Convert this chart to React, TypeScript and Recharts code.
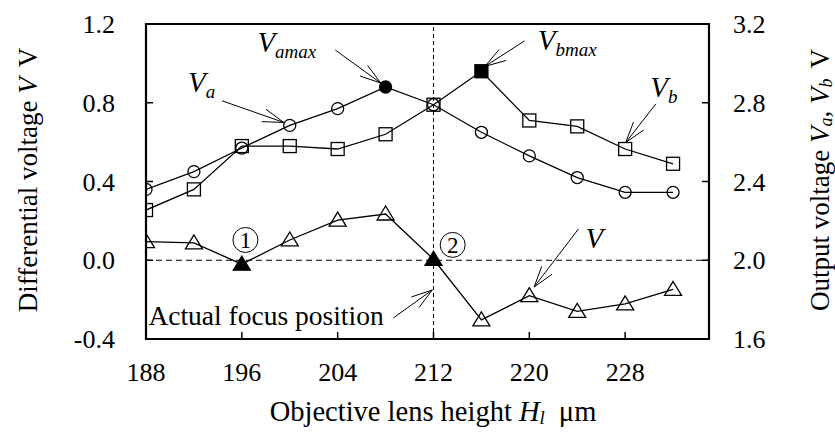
import { ComposedChart, Line, XAxis, YAxis, ReferenceLine, ReferenceDot, ReferenceArea, Customized } from 'recharts'

const heights = [188, 192, 196, 200, 204, 208, 212, 216, 220, 224, 228, 232]
const va = [2.36, 2.45, 2.57, 2.685, 2.77, 2.88, 2.79, 2.65, 2.53, 2.42, 2.345, 2.345]
const vb = [2.255, 2.36, 2.58, 2.58, 2.565, 2.64, 2.79, 2.96, 2.71, 2.68, 2.565, 2.49]
const dv = [0.095, 0.088, -0.02, 0.103, 0.204, 0.235, 0.005, -0.303, -0.18, -0.26, -0.222, -0.148]
const vaFilled = [208]
const vbFilled = [216]
const dvFilled = [196, 212]
const xTicks = [188, 196, 204, 212, 220, 228]
const leftTicks = [-0.4, 0, 0.4, 0.8, 1.2]
const rightTicks = [1.6, 2.0, 2.4, 2.8, 3.2]
const focusHeight = 212

const data = heights.map((h, i) => ({ h, va: va[i], vb: vb[i], v: dv[i] }))

const FONT = '"Liberation Serif"'
const css = 'body{margin:0} svg text, svg tspan{font-family:"Liberation Serif"}'
const tickStyle = { fill: '#000', fontSize: 26, style: { fontFamily: FONT } }

// arrows: [from, to] in data units (left axis)
const arrows = [
  [{ x: 194.35, y: 0.81 }, { x: 199.5, y: 0.7 }],
  [{ x: 203.8, y: 1.068 }, { x: 207.6, y: 0.9 }],
  [{ x: 219.6, y: 1.114 }, { x: 216.3, y: 0.985 }],
  [{ x: 230.56, y: 0.794 }, { x: 228.05, y: 0.598 }],
  [{ x: 224.1, y: 0.159 }, { x: 220.4, y: -0.136 }],
  [{ x: 208.65, y: -0.293 }, { x: 211.9, y: -0.151 }],
]

const circleDot = (filled: number[]) => (p: any) => (
  <circle key={`c${p.index}`} cx={p.cx} cy={p.cy} r={6} fill={filled.includes(p.payload.h) ? '#000' : 'none'} stroke="#000" strokeWidth={1.3} />
)
const squareDot = (filled: number[]) => (p: any) => (
  <rect key={`s${p.index}`} x={p.cx - 6.5} y={p.cy - 6.5} width={13} height={13} fill={filled.includes(p.payload.h) ? '#000' : 'none'} stroke="#000" strokeWidth={1.3} />
)
const triDot = (filled: number[]) => (p: any) => (
  <polygon key={`t${p.index}`} points={`${p.cx},${p.cy - 8} ${p.cx - 8.5},${p.cy + 6} ${p.cx + 8.5},${p.cy + 6}`} fill={filled.includes(p.payload.h) ? '#000' : 'none'} stroke="#000" strokeWidth={1.3} />
)

const Arrow = (p: any) => {
  const { x1, y1, x2, y2 } = p
  const a = Math.atan2(y2 - y1, x2 - x1)
  const L = 22
  const head = [-0.3, 0.3].map((s) => [x2 - L * Math.cos(a + s), y2 - L * Math.sin(a + s)])
  return (
    <g stroke="#000" strokeWidth={1}>
      <line x1={x1} y1={y1} x2={x2} y2={y2} />
      {head.map(([hx, hy], i) => <line key={i} x1={hx} y1={hy} x2={x2} y2={y2} />)}
    </g>
  )
}

const VLabel = (sub: string) => (p: any) => (
  <text x={p.cx} y={p.cy} style={{ fontFamily: FONT }} fontSize={29} fontStyle="italic" fill="#000">
    V{sub && <tspan fontSize={19} dy={6}>{sub}</tspan>}
  </text>
)
const Circled = (n: string) => (p: any) => (
  <g>
    <circle cx={p.cx} cy={p.cy} r={12.5} fill="none" stroke="#000" strokeWidth={1} />
    <text x={p.cx} y={p.cy + 8} textAnchor="middle" style={{ fontFamily: FONT }} fontSize={23} fill="#000">{n}</text>
  </g>
)
const FocusText = (p: any) => (
  <text x={p.cx} y={p.cy} style={{ fontFamily: FONT }} fontSize={27.5} fill="#000">Actual focus position</text>
)

const Titles = () => (
  <g style={{ fontFamily: FONT }} fontSize={27} fill="#000">
    <text x={28} y={180} transform="rotate(-90 28 180)" textAnchor="middle" dominantBaseline="central">
      Differential voltage <tspan fontStyle="italic">V</tspan><tspan dx={10}>V</tspan>
    </text>
    <text x={820} y={180} transform="rotate(-90 820 180)" textAnchor="middle" dominantBaseline="central">
      Output voltage <tspan fontStyle="italic">V</tspan><tspan fontStyle="italic" fontSize={18} dy={6}>a</tspan><tspan dy={-6}>, </tspan><tspan fontStyle="italic">V</tspan><tspan fontStyle="italic" fontSize={18} dy={6}>b</tspan><tspan dy={-6} dx={10}>V</tspan>
    </text>
    <text x={433} y={411} textAnchor="middle" dominantBaseline="central" fontSize={28.5}>
      Objective lens height <tspan fontStyle="italic">H</tspan><tspan fontStyle="italic" fontSize={19} dy={6}>l</tspan><tspan dy={-6} dx={14}>μm</tspan>
    </text>
  </g>
)

export default function App() {
  return (
    <div style={{ width: 835, height: 435, background: '#fff' }}>
      <style>{css}</style>
      <ComposedChart width={835} height={435} data={data} margin={{ top: 24, right: 0, bottom: 0, left: 0 }}>
        <XAxis dataKey="h" type="number" domain={[188, 235]} ticks={xTicks} interval={0} allowDataOverflow
          height={96} axisLine={false} tickSize={-7} tickMargin={31} tickLine={{ stroke: '#000', strokeWidth: 1.5 }} tick={tickStyle} />
        <YAxis yAxisId="l" domain={[-0.4, 1.2]} ticks={leftTicks} interval={0} width={146} axisLine={false}
          tickSize={-7} tickMargin={38} tickLine={{ stroke: '#000', strokeWidth: 1.5 }} tick={tickStyle} tickFormatter={(v: number) => v.toFixed(1)} />
        <YAxis yAxisId="r" orientation="right" domain={[1.6, 3.2]} ticks={rightTicks} interval={0} width={126} axisLine={false}
          tickSize={-7} tickMargin={31} tickLine={{ stroke: '#000', strokeWidth: 1.5 }} tick={tickStyle} tickFormatter={(v: number) => v.toFixed(1)} />
        <ReferenceLine yAxisId="l" y={0} stroke="#000" strokeWidth={1} strokeDasharray="6 4" />
        <ReferenceLine yAxisId="l" x={focusHeight} stroke="#000" strokeWidth={1} strokeDasharray="4 3" />
        <Line yAxisId="r" dataKey="va" stroke="#000" strokeWidth={1.3} dot={circleDot(vaFilled)} isAnimationActive={false} />
        <Line yAxisId="r" dataKey="vb" stroke="#000" strokeWidth={1.3} dot={squareDot(vbFilled)} isAnimationActive={false} />
        <Line yAxisId="l" dataKey="v" stroke="#000" strokeWidth={1.3} dot={triDot(dvFilled)} isAnimationActive={false} />
        {arrows.map((s, i) => (
          <ReferenceLine key={i} yAxisId="l" segment={s} shape={Arrow} ifOverflow="visible" />
        ))}
        <ReferenceDot yAxisId="l" x={191.5} y={0.855} r={0} shape={VLabel('a')} />
        <ReferenceDot yAxisId="l" x={197.3} y={1.058} r={0} shape={VLabel('amax')} />
        <ReferenceDot yAxisId="l" x={220.7} y={1.068} r={0} shape={VLabel('bmax')} />
        <ReferenceDot yAxisId="l" x={230.1} y={0.829} r={0} shape={VLabel('b')} />
        <ReferenceDot yAxisId="l" x={224.7} y={0.062} r={0} shape={VLabel('')} />
        <ReferenceDot yAxisId="l" x={196.3} y={0.103} r={0} shape={Circled('1')} />
        <ReferenceDot yAxisId="l" x={213.6} y={0.078} r={0} shape={Circled('2')} />
        <ReferenceDot yAxisId="l" x={188.2} y={-0.329} r={0} shape={FocusText} />
        <ReferenceArea yAxisId="l" x1={188} x2={235} y1={-0.4} y2={1.2} fill="none" stroke="#000" strokeWidth={2.2} ifOverflow="visible" />
        <Customized component={Titles} />
      </ComposedChart>
    </div>
  )
}
